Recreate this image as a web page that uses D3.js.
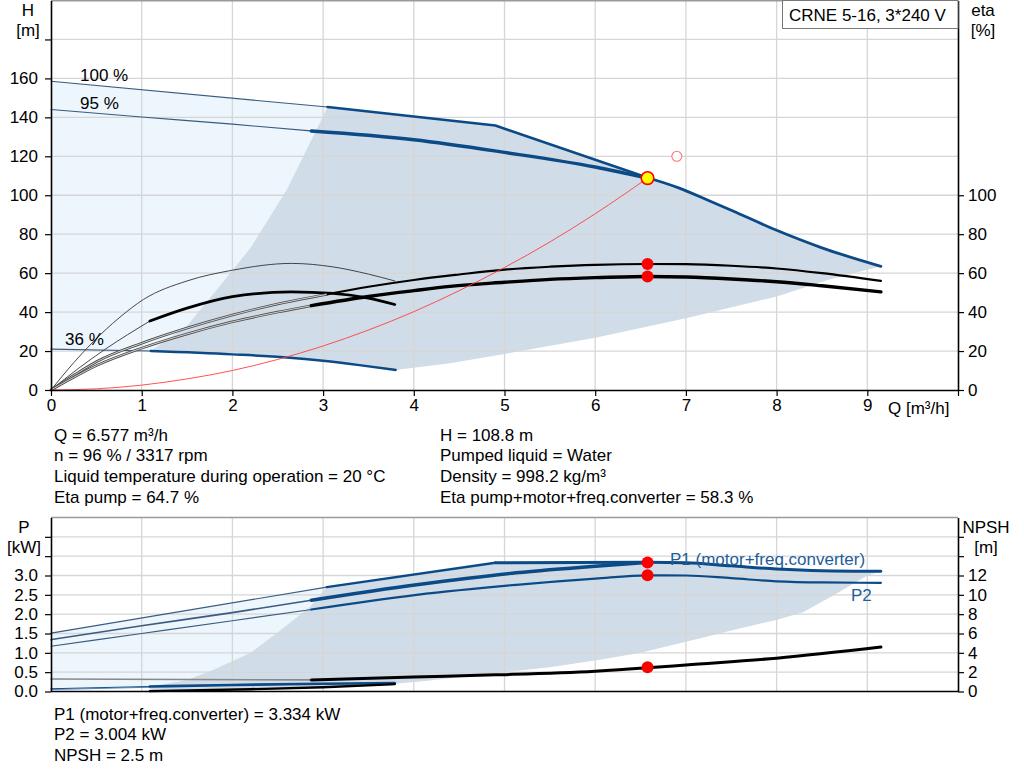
<!DOCTYPE html>
<html><head><meta charset="utf-8">
<script src="https://cdn.jsdelivr.net/npm/d3@7"></script>
<style>body{margin:0;background:#fff}svg{display:block;font-family:"Liberation Sans",Arial,sans-serif}</style>
</head><body><svg id="c" width="1024" height="781"></svg>
<script>
// ---------- tick labels ----------
const qTicks = [0,1,2,3,4,5,6,7,8,9,10];
const hTicks = [0,20,40,60,80,100,120,140,160,180];
const etaTicks = [0,20,40,60,80,100];
const pTicks = [0,0.5,1,1.5,2,2.5,3,3.5,4];
const npshTicks = [0,2,4,6,8,10,12,14,16];

// ---------- top chart: head curves [Q, H] ----------
const head100 = [[0,158.5],[3.05,145.3],[4.9,135.8],[6.58,109],[6.92,103.8],[7.25,97.3],[7.5,92.3],[8,82],[8.5,73],[9.15,63.5]];
const head95  = [[0,144],[1,140.2],[2,136.5],[2.87,133],[4,128.5],[5,122],[6,114.5],[6.58,108.8]];
const head36  = [[0,21],[1.1,20],[2,18.3],[2.6,16.7],[3,15],[3.4,12.8],[3.8,10.3]];
const areaLeftEdgeH  = [[1.1,20],[1.5,33],[1.8,50],[2.2,73],[2.6,103],[3.05,145.3]];
const areaLowerEdgeH = [[3.8,10.3],[4.4,13.7],[5,18.5],[6,26.8],[7,36.8],[8,48],[8.6,57],[9.15,63.5]];
// efficiency curves [Q, eta %]
const etaPump  = [[0,0],[0.25,7.5],[0.5,14.5],[1,24],[1.5,31.8],[2,38.5],[2.5,44.2],[3.05,49.2],[3.5,53],[4,56.5],[4.5,59.3],[5,61.8],[5.5,63.3],[6,64.3],[6.58,64.7],[7,64.6],[7.5,63.8],[8,62.4],[8.5,60],[9.15,56]];
const etaTotal = [[0,0],[0.25,6.5],[0.5,12.5],[1,21.5],[1.5,28.8],[2,35],[2.5,40],[2.87,43.3],[3.5,48],[4,51],[4.4,53.2],[5,55.3],[5.5,56.8],[6,57.7],[6.58,58.3],[7,58],[7.5,57],[8,55.6],[8.5,53.5],[9.15,50.4]];
const etaPump36  = [[0,0],[0.25,14],[0.47,25],[0.75,37],[1.02,46.5],[1.5,56],[2,61.5],[2.65,65],[3.11,63.2],[3.5,59.5],[3.79,56]];
const etaTotal36 = [[0,0],[0.3,11],[0.6,21],[1.09,35.4],[1.5,42],[2,47.9],[2.65,50.4],[3.11,49.6],[3.5,47.2],[3.79,43.9]];
const systemCurve = [[0,0],[0.5,0.6],[1,2.5],[1.5,5.7],[2,10],[2.5,15.7],[3,22.6],[3.5,30.8],[4,40.2],[4.5,51],[5,62.9],[5.5,76],[6,90.5],[6.577,108.8]];
const dutyQ = 6.577, dutyH = 108.8, dutyEtaPump = 64.7, dutyEtaTotal = 58.3;
const openPoint = [6.9,120];

// ---------- bottom chart: power [Q, kW] and NPSH [Q, m] ----------
const p1Max = [[0,1.51],[3.04,2.7],[4.9,3.33],[6.58,3.34],[7,3.33],[7.5,3.25],[8,3.17],[8.5,3.125],[9.15,3.11]];
const p1Op  = [[0,1.34],[1,1.7],[2,2.04],[2.87,2.36],[4.03,2.76],[5.13,3.07],[6,3.24],[6.577,3.334]];
const p2    = [[0,1.17],[1,1.5],[2,1.83],[2.87,2.12],[4.03,2.5],[5.13,2.76],[6,2.92],[6.577,3.004],[7,3.0],[7.5,2.93],[8,2.85],[8.5,2.82],[9.15,2.81]];
const p1Min = [[0,0.07],[1.09,0.13],[2,0.17],[3,0.2],[3.79,0.22]];
const p2Min = [[0,0.05],[1.09,0.11]];
const pLow36 = [[1.09,0.01],[2.2,0.06],[3,0.11],[3.79,0.19]];
const areaLeftEdgeP  = [[1.09,0.13],[1.5,0.3],[1.79,0.56],[2.2,1.0],[2.49,1.51],[2.86,2.2],[3.04,2.7]];
const areaLowerEdgeP = [[3.79,0.2],[4.07,0.26],[4.5,0.37],[5,0.5],[5.5,0.63],[6.05,0.82],[6.5,1.0],[7.16,1.38],[7.5,1.58],[8,1.85],[8.29,2.05],[8.6,2.45],[9.0,3.0],[9.15,3.11]];
const npshFlat = [[0,1.3],[2.87,1.2]];
const npsh = [[2.87,1.2],[4,1.5],[4.9,1.72],[6,2.1],[6.577,2.45],[7,2.75],[8,3.45],[9.15,4.6]];
const dutyP1 = 3.334, dutyP2 = 3.004, dutyNPSH = 2.5;

// ---------- texts ----------
const infoLeft = ["Q = 6.577 m³/h","n = 96 % / 3317 rpm","Liquid temperature during operation = 20 °C","Eta pump = 64.7 %"];
const infoRight = ["H = 108.8 m","Pumped liquid = Water","Density = 998.2 kg/m³","Eta pump+motor+freq.converter = 58.3 %"];
const infoBottom = ["P1 (motor+freq.converter) = 3.334 kW","P2 = 3.004 kW","NPSH = 2.5 m"];
const title = "CRNE 5-16, 3*240 V";

// ---------- drawing ----------
const svg = d3.select("#c");
const BLUE = "#0b4a86", THIN = "#3a5b80", LIGHT = "#edf5fd", GRAY = "#d0dce7", GRID = "#d6d6d6";
const FS = "17px";

const x = d3.scaleLinear([0,10],[51,958]);
const yH = d3.scaleLinear([0,200],[390,0.5]);
const yP = d3.scaleLinear([0,4.5],[691.5,517.5]);
const yN = d3.scaleLinear([0,18],[691.5,517.5]);

const lineH = d3.line().x(d=>x(d[0])).y(d=>yH(d[1])).curve(d3.curveMonotoneX);
const lineP = d3.line().x(d=>x(d[0])).y(d=>yP(d[1])).curve(d3.curveMonotoneX);
const lineN = d3.line().x(d=>x(d[0])).y(d=>yN(d[1])).curve(d3.curveMonotoneX);
const polyH = d3.line().x(d=>x(d[0])).y(d=>yH(d[1]));
const polyP = d3.line().x(d=>x(d[0])).y(d=>yP(d[1]));
const seg = (arr,a,b)=>arr.filter(d=>d[0]>=a-1e-9 && d[0]<=b+1e-9);

function draw(gen, data, color, w){
  return svg.append("path").attr("d", gen(data)).attr("fill","none")
    .attr("stroke",color).attr("stroke-width",w).attr("stroke-linejoin","round").attr("stroke-linecap","round");
}
function doubleLine(gen, data){
  draw(gen, data, "#4a4a4a", 2.6);
  draw(gen, data, "#f4f4f4", 0.8);
}

// ===== TOP CHART =====
const lightTop = [[0,21],...seg(head100,0,3.05), ...areaLeftEdgeH.slice().reverse()];
svg.append("path").attr("d", polyH(lightTop)+"Z").attr("fill",LIGHT);
const grayTop = [...areaLeftEdgeH, ...seg(head100,3.05,9.15), ...areaLowerEdgeH.slice().reverse(), ...seg(head36,1.1,3.8).reverse()];
svg.append("path").attr("d", polyH(grayTop)+"Z").attr("fill",GRAY);

const gTop = svg.append("g");
[1,2,3,4,5,6,7,8,9].forEach(q=>gTop.append("line").attr("x1",x(q)).attr("x2",x(q)).attr("y1",0).attr("y2",390).attr("stroke",GRID).attr("stroke-width",1.3));
[20,40,60,80,100,120,140,160,180].forEach(h=>gTop.append("line").attr("x1",51).attr("x2",958).attr("y1",yH(h)).attr("y2",yH(h)).attr("stroke",GRID).attr("stroke-width",1.3));
svg.append("line").attr("x1",51).attr("x2",958).attr("y1",0.8).attr("y2",0.8).attr("stroke","#9a9a9a").attr("stroke-width",1.5);

// head curves
draw(polyH, seg(head100,0,3.05), THIN, 1.1);
draw(polyH, seg(head100,3.05,6.58), BLUE, 2.6);
draw(lineH, seg(head100,6.58,9.15), BLUE, 2.8);
draw(lineH, seg(head95,0,2.87), THIN, 1.1);
draw(lineH, seg(head95,2.87,6.58), BLUE, 3.4);
draw(lineH, seg(head36,0,1.1), THIN, 1.1);
draw(lineH, seg(head36,1.1,3.8), BLUE, 2.4);

// efficiency curves
draw(lineH, etaPump36, "#333", 0.9);
draw(lineH, seg(etaTotal36,0,1.09), "#333", 0.9);
draw(lineH, seg(etaTotal36,1.09,3.79), "#000", 2.8);
doubleLine(lineH, seg(etaPump,0,3.05));
draw(lineH, seg(etaPump,3.05,9.15), "#000", 2.2);
doubleLine(lineH, seg(etaTotal,0,2.87));
draw(lineH, seg(etaTotal,2.87,9.15), "#000", 3.4);

draw(lineH, systemCurve, "#ff4040", 0.9);

svg.append("circle").attr("cx",x(openPoint[0])).attr("cy",yH(openPoint[1])).attr("r",5).attr("fill","#fff").attr("stroke","#ff7070").attr("stroke-width",1.1);
svg.append("circle").attr("cx",x(dutyQ)).attr("cy",yH(dutyEtaPump)).attr("r",6).attr("fill","#ff0000");
svg.append("circle").attr("cx",x(dutyQ)).attr("cy",yH(dutyEtaTotal)).attr("r",6).attr("fill","#ff0000");
svg.append("circle").attr("cx",x(dutyQ)).attr("cy",yH(dutyH)).attr("r",6.3).attr("fill","#ffff00").attr("stroke","#ff0000").attr("stroke-width",1.6);

function styleAxis(g){
  g.selectAll("text").attr("font-size",FS).attr("fill","#000").attr("font-family",'"Liberation Sans",Arial,sans-serif');
  g.select(".domain").attr("stroke","#000").attr("stroke-width",1.6);
  g.selectAll(".tick line").attr("stroke","#000").attr("stroke-width",1.2);
}
svg.append("g").attr("transform","translate(51,0)")
  .call(d3.axisLeft(yH).tickValues(hTicks).tickSize(6).tickSizeOuter(0).tickPadding(7).tickFormat(d=>d<=160?d:""))
  .call(styleAxis);
svg.append("g").attr("transform","translate(958,0)")
  .call(d3.axisRight(yH).tickValues(etaTicks).tickSize(6).tickSizeOuter(0).tickPadding(4))
  .call(styleAxis);
svg.append("g").attr("transform","translate(0,390)")
  .call(d3.axisBottom(x).tickValues(qTicks).tickSize(6).tickSizeOuter(0).tickPadding(3).tickFormat(d=>d<=9?d:""))
  .call(styleAxis);

function txt(s,xx,yy,opt={}){
  return svg.append("text").attr("x",xx).attr("y",yy).attr("font-size",opt.fs||FS)
    .attr("fill",opt.fill||"#000").attr("text-anchor",opt.anchor||"start")
    .attr("dominant-baseline","central").text(s);
}
txt("H",28,10,{anchor:"middle"});
txt("[m]",28,30,{anchor:"middle"});
txt("eta",983,10,{anchor:"middle"});
txt("[%]",983,30,{anchor:"middle"});
txt("Q [m³/h]",888,408);
txt("100 %",80,75);
txt("95 %",80,103);
txt("36 %",65,339);

svg.append("rect").attr("x",782.5).attr("y",0.5).attr("width",175.5).attr("height",28).attr("fill","#fff").attr("stroke","#777").attr("stroke-width",1);
txt(title,789,15);

infoLeft.forEach((s,i)=>txt(s,54,435+i*20.7));
infoRight.forEach((s,i)=>txt(s,440,435+i*20.7));

// ===== BOTTOM CHART =====
const lightBot = [[0,0.07],...seg(p1Max,0,3.04), ...areaLeftEdgeP.slice().reverse()];
svg.append("path").attr("d", polyP(lightBot)+"Z").attr("fill",LIGHT);
const grayBot = [...areaLeftEdgeP, ...seg(p1Max,3.04,9.15), ...areaLowerEdgeP.slice().reverse(), ...pLow36.slice().reverse()];
svg.append("path").attr("d", polyP(grayBot)+"Z").attr("fill",GRAY);

const gBot = svg.append("g");
[1,2,3,4,5,6,7,8,9].forEach(q=>gBot.append("line").attr("x1",x(q)).attr("x2",x(q)).attr("y1",517.5).attr("y2",691.5).attr("stroke",GRID).attr("stroke-width",1.3));
[0.5,1,1.5,2,2.5,3,3.5,4].forEach(p=>gBot.append("line").attr("x1",51).attr("x2",958).attr("y1",yP(p)).attr("y2",yP(p)).attr("stroke",GRID).attr("stroke-width",1.3));
svg.append("line").attr("x1",51).attr("x2",958).attr("y1",517.5).attr("y2",517.5).attr("stroke","#9a9a9a").attr("stroke-width",1.5);

draw(lineN, npshFlat, "#888", 1.6);
draw(lineN, npsh, "#000", 3);
draw(lineP, seg(p1Min,0,1.09), BLUE, 1.1);
draw(lineP, p2Min, "#4a78a8", 0.9);
draw(lineP, seg(p1Min,1.09,3.79), BLUE, 2.6);
draw(lineP, pLow36, "#000", 2.4);
draw(polyP, seg(p1Max,0,3.04), THIN, 1.1);
draw(lineP, seg(p1Max,3.04,4.9), BLUE, 2.4);
draw(lineP, seg(p1Max,4.9,9.15), BLUE, 3);
draw(lineP, seg(p1Op,0,2.87), THIN, 1.6);
draw(lineP, seg(p1Op,2.87,6.577), BLUE, 3.4);
draw(lineP, seg(p2,0,2.87), THIN, 1.1);
draw(lineP, seg(p2,2.87,9.15), BLUE, 2.2);

svg.append("circle").attr("cx",x(dutyQ)).attr("cy",yP(dutyP1)).attr("r",6).attr("fill","#ff0000");
svg.append("circle").attr("cx",x(dutyQ)).attr("cy",yP(dutyP2)).attr("r",6).attr("fill","#ff0000");
svg.append("circle").attr("cx",x(dutyQ)).attr("cy",yN(dutyNPSH)).attr("r",6).attr("fill","#ff0000");

txt("P1 (motor+freq.converter)",670,559,{fill:"#1f5d99"});
txt("P2",851,595,{fill:"#1f5d99"});

svg.append("g").attr("transform","translate(51,0)")
  .call(d3.axisLeft(yP).tickValues(pTicks).tickSize(6).tickSizeOuter(0).tickPadding(7).tickFormat(d=>d<=3?d3.format(".1f")(d):""))
  .call(styleAxis);
svg.append("g").attr("transform","translate(958,0)")
  .call(d3.axisRight(yN).tickValues(npshTicks).tickSize(6).tickSizeOuter(0).tickPadding(4).tickFormat(d=>d<=12?d:""))
  .call(styleAxis);
svg.append("line").attr("x1",51).attr("x2",958).attr("y1",691.5).attr("y2",691.5).attr("stroke","#000").attr("stroke-width",1.6);

txt("P",24,527,{anchor:"middle"});
txt("[kW]",24,547,{anchor:"middle"});
txt("NPSH",986,527,{anchor:"middle"});
txt("[m]",986,547,{anchor:"middle"});

infoBottom.forEach((s,i)=>txt(s,54,714+i*20.7));
</script></body></html>
